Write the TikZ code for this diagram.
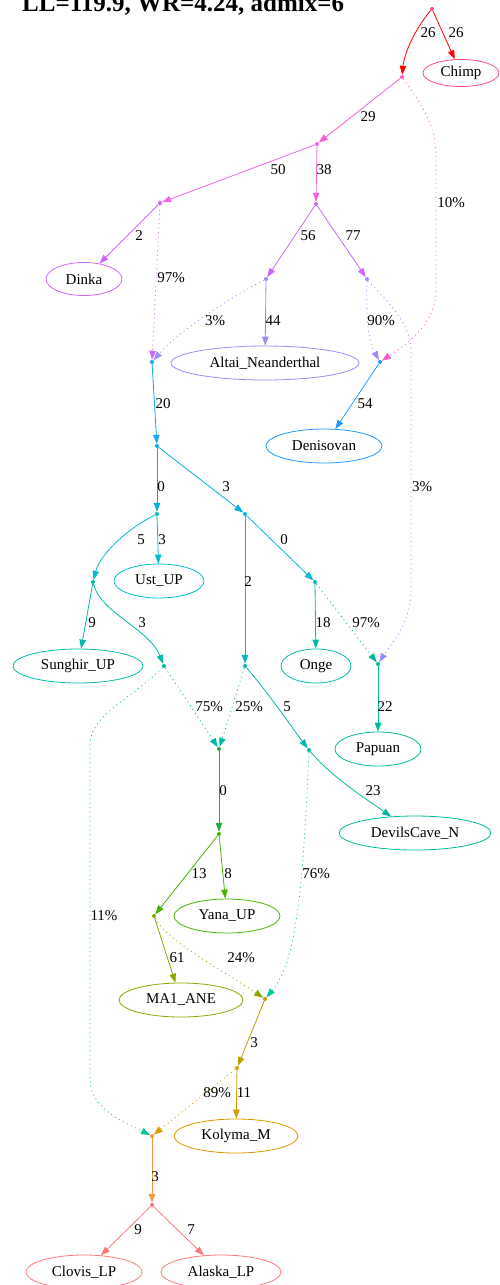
\documentclass[tikz,border=0pt]{standalone}
\usepackage{fontspec}
\setmainfont{Liberation Serif}
\usetikzlibrary{arrows.meta,shapes.geometric}
\definecolor{cRed}{HTML}{FF0000}
\definecolor{cChimp}{HTML}{FF4D88}
\definecolor{cPink}{HTML}{FF5ACD}
\definecolor{cMag}{HTML}{EE66E6}
\definecolor{cVio}{HTML}{CC66FF}
\definecolor{cLav}{HTML}{9D8CFF}
\definecolor{cBlue}{HTML}{2299FF}
\definecolor{cSky}{HTML}{11A8EE}
\definecolor{cCyan}{HTML}{00B0DD}
\definecolor{cTealA}{HTML}{00BBCC}
\definecolor{cTealB}{HTML}{00BBAA}
\definecolor{cTealC}{HTML}{00BB99}
\definecolor{cGreenT}{HTML}{00C896}
\definecolor{cGreen}{HTML}{22AA44}
\definecolor{cLime}{HTML}{44B400}
\definecolor{cOlive}{HTML}{88AA00}
\definecolor{cOchre}{HTML}{BBA000}
\definecolor{cGold}{HTML}{DD9900}
\definecolor{cOrange}{HTML}{EE9944}
\definecolor{cSalmon}{HTML}{FF7777}
\newcommand\lblfont{\fontsize{15}{15}\selectfont}
\begin{document}
\begin{tikzpicture}[x=1pt,y=-1pt,
  e/.style={draw=#1, line width=0.8pt, -{Triangle[length=9pt,width=6.5pt]}},
  de/.style={e=#1, dash pattern=on 1pt off 3.5pt},
  dot/.style={circle, fill=#1, inner sep=0pt, minimum size=4pt},
  pop/.style={ellipse, draw=#1, line width=0.8pt, inner sep=0pt, font=\lblfont},
  lab/.style={inner sep=0pt, font=\lblfont}]
\useasboundingbox (0,0) rectangle (499,1285);
\node[anchor=base west, inner sep=0pt, font=\bfseries\fontsize{25}{25}\selectfont] (title) at (22,11) {LL=119.9, WR=4.24, admix=6};
% internal nodes
\node[dot=cChimp] (root) at (432,9) {};
\node[dot=cPink] (n1) at (402,77) {};
\node[dot=cMag] (n2) at (317,144) {};
\node[dot=cVio] (n3) at (160,203) {};
\node[dot=cVio] (n4) at (316,204) {};
\node[dot=cSky] (n5) at (152,362) {};
\node[dot=cLav] (n6) at (266,279) {};
\node[dot=cLav] (n7) at (367,279) {};
\node[dot=cBlue] (nd) at (380,362) {};
\node[dot=cSky] (n8) at (157,446) {};
\node[dot=cTealA] (n9) at (157,514) {};
\node[dot=cTealA] (n10) at (245,514) {};
\node[dot=cTealB] (n11) at (93,582) {};
\node[dot=cTealB] (n12) at (245,666) {};
\node[dot=cTealB] (n13) at (315,582) {};
\node[dot=cTealC] (n14) at (164,666) {};
\node[dot=cTealC] (np) at (378,664) {};
\node[dot=cGreen] (n15) at (219,749) {};
\node[dot=cTealC] (n17) at (309,750) {};
\node[dot=cLime] (n19) at (219,834) {};
\node[dot=cOlive] (n20) at (154,916) {};
\node[dot=cOchre] (n18) at (265,999) {};
\node[dot=cGold] (n21) at (237,1068) {};
\node[dot=cOrange] (n16) at (152,1136) {};
\node[dot=cSalmon] (n22) at (152,1205) {};
% populations
\node[pop=cChimp, minimum width=76pt, minimum height=27pt] (chimp) at (461,73) {Chimp};
\node[pop=cVio, minimum width=76pt, minimum height=33pt] (dinka) at (84,279) {Dinka};
\node[pop=cLav, minimum width=188pt, minimum height=34pt] (altai) at (265,363) {Altai\_Neanderthal};
\node[pop=cBlue, minimum width=116pt, minimum height=34pt] (deni) at (324,446) {Denisovan};
\node[pop=cTealA, minimum width=90pt, minimum height=34pt] (ust) at (159,581) {Ust\_UP};
\node[pop=cTealB, minimum width=130pt, minimum height=34pt] (sung) at (78,666) {Sunghir\_UP};
\node[pop=cTealB, minimum width=70pt, minimum height=34pt] (onge) at (316,666) {Onge};
\node[pop=cTealC, minimum width=86pt, minimum height=34pt] (papuan) at (378,749) {Papuan};
\node[pop=cTealC, minimum width=152pt, minimum height=34pt] (devil) at (415,833) {DevilsCave\_N};
\node[pop=cLime, minimum width=106pt, minimum height=34pt] (yana) at (227,916) {Yana\_UP};
\node[pop=cOlive, minimum width=124pt, minimum height=34pt] (ma1) at (181,1000) {MA1\_ANE};
\node[pop=cGold, minimum width=124pt, minimum height=34pt] (kolyma) at (236,1136) {Kolyma\_M};
\node[pop=cSalmon, minimum width=116pt, minimum height=34pt] (clovis) at (84,1272) {Clovis\_LP};
\node[pop=cSalmon, minimum width=120pt, minimum height=34pt] (alaska) at (221,1272) {Alaska\_LP};
% solid edges
\draw[e=cRed] (root) .. controls (414,30) and (404,55) .. (n1);
\draw[e=cRed] (root) -- (chimp);
\draw[e=cPink] (n1) -- (n2);
\draw[e=cMag] (n2) -- (n3);
\draw[e=cMag] (n2) -- (n4);
\draw[e=cVio] (n3) -- (dinka);
\draw[e=cVio] (n4) -- (n6);
\draw[e=cVio] (n4) -- (n7);
\draw[e=cLav] (n6) -- (altai);
\draw[e=cBlue] (nd) -- (deni);
\draw[e=cSky] (n5) -- (n8);
\draw[e=cCyan] (n8) -- (n9);
\draw[e=cCyan] (n8) -- (n10);
\draw[e=cTealA] (n9) .. controls (125,530) and (100,555) .. (n11);
\draw[e=cTealA] (n9) -- (ust);
\draw[e=cTealA] (n10) -- (n12);
\draw[e=cTealA] (n10) -- (n13);
\draw[e=cTealB] (n11) -- (sung);
\draw[e=cTealB] (n11) .. controls (100,612) and (150,630) .. (n14);
\draw[e=cTealB] (n13) -- (onge);
\draw[e=cTealC] (np) -- (papuan);
\draw[e=cTealB] (n12) .. controls (270,695) and (290,725) .. (n17);
\draw[e=cTealC] (n17) .. controls (330,775) and (360,795) .. (devil);
\draw[e=cGreen] (n15) -- (n19);
\draw[e=cLime] (n19) -- (n20);
\draw[e=cLime] (n19) -- (yana);
\draw[e=cOlive] (n20) -- (ma1);
\draw[e=cOchre] (n18) -- (n21);
\draw[e=cGold] (n21) -- (kolyma);
\draw[e=cOrange] (n16) -- (n22);
\draw[e=cSalmon] (n22) -- (clovis);
\draw[e=cSalmon] (n22) -- (alaska);
% admixture (dotted) edges
\draw[de=cPink] (n1) .. controls (425,110) and (436,125) .. (436,160) -- (436,290) .. controls (436,325) and (405,345) .. (nd);
\draw[de=cVio] (n3) -- (n5);
\draw[de=cLav] (n6) .. controls (230,298) and (180,330) .. (n5);
\draw[de=cLav] (n7) .. controls (366,320) and (368,340) .. (nd);
\draw[de=cLav] (n7) .. controls (380,295) and (411,320) .. (411,350) -- (411,590) .. controls (411,625) and (390,645) .. (np);
\draw[de=cTealC] (n13) -- (np);
\draw[de=cTealB] (n14) -- (n15);
\draw[de=cTealB] (n12) -- (n15);
\draw[de=cGreenT] (n14) .. controls (130,700) and (90,715) .. (90,745) -- (90,1080) .. controls (90,1110) and (130,1125) .. (n16);
\draw[de=cGreenT] (n17) .. controls (303,880) and (298,960) .. (n18);
\draw[de=cOlive] (n20) .. controls (165,940) and (230,975) .. (n18);
\draw[de=cGold] (n21) -- (n16);
% labels
\node[lab] (l1) at (428,33) {26};
\node[lab] (l2) at (456,33) {26};
\node[lab] (l3) at (368,117) {29};
\node[lab] (l4) at (451,203) {10\%};
\node[lab] (l5) at (278,170) {50};
\node[lab] (l6) at (324,170) {38};
\node[lab] (l7) at (139,236) {2};
\node[lab] (l8) at (308,236) {56};
\node[lab] (l9) at (353,236) {77};
\node[lab] (l10) at (171,278) {97\%};
\node[lab] (l11) at (215,321) {3\%};
\node[lab] (l12) at (273,321) {44};
\node[lab] (l13) at (381,321) {90\%};
\node[lab] (l14) at (163,404) {20};
\node[lab] (l15) at (365,404) {54};
\node[lab] (l16) at (161,487) {0};
\node[lab] (l17) at (226,487) {3};
\node[lab] (l18) at (422,487) {3\%};
\node[lab] (l19) at (141,540) {5};
\node[lab] (l20) at (162,540) {3};
\node[lab] (l21) at (284,540) {0};
\node[lab] (l22) at (248,582) {2};
\node[lab] (l23) at (92,623) {9};
\node[lab] (l24) at (142,623) {3};
\node[lab] (l25) at (323,623) {18};
\node[lab] (l26) at (366,623) {97\%};
\node[lab] (l27) at (209,707) {75\%};
\node[lab] (l28) at (249,707) {25\%};
\node[lab] (l29) at (287,707) {5};
\node[lab] (l30) at (385,707) {22};
\node[lab] (l31) at (223,791) {0};
\node[lab] (l32) at (373,791) {23};
\node[lab] (l33) at (199,874) {13};
\node[lab] (l34) at (228,874) {8};
\node[lab] (l35) at (316,874) {76\%};
\node[lab] (l36) at (104,916) {11\%};
\node[lab] (l37) at (177,958) {61};
\node[lab] (l38) at (241,958) {24\%};
\node[lab] (l39) at (254,1043) {3};
\node[lab] (l40) at (217,1093) {89\%};
\node[lab] (l41) at (244,1093) {11};
\node[lab] (l42) at (155,1177) {3};
\node[lab] (l43) at (138,1230) {9};
\node[lab] (l44) at (191,1230) {7};
\end{tikzpicture}
\end{document}
